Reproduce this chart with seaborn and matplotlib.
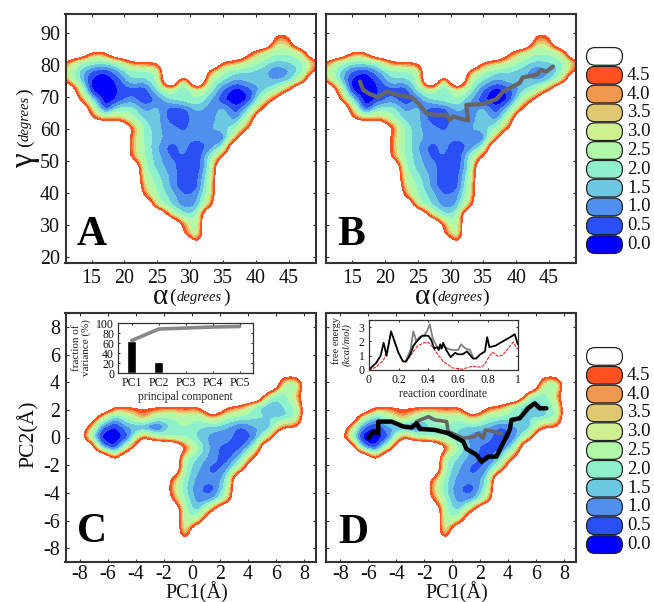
import numpy as np
import seaborn as sns
import matplotlib.pyplot as plt
from matplotlib.patches import FancyBboxPatch

W, H = 654, 602

sns.set_style("white")
plt.rcParams["font.family"] = ["Liberation Serif", "DejaVu Serif"]
plt.rcParams["axes.unicode_minus"] = False

# free energy levels and legend (upper bands hug the basin edge, as in the picture)
levels = [0, 0.5, 1, 1.5, 2, 2.6, 3.4, 3.9, 4.3, 4.65, 5]
band_colors = ["#0000ff", "#2a50f5", "#4f90ee", "#6cc8e0", "#8ff0cc",
               "#b2f8aa", "#cff090", "#e0c870", "#f09850", "#ff5020"]
legend_labels = ["0.0", "0.5", "1.0", "1.5", "2.0", "2.5", "3.0", "3.5", "4.0", "4.5", ""]
off_basin = 9

# surface in alpha / gamma
alpha_grid = [11, 13, 15, 17, 19, 21, 23, 25, 27, 29, 31, 33, 35, 37, 39, 41, 43, 45, 47, 49]
gamma_grid = [93, 90, 87, 84, 81, 78, 75, 72, 69, 66, 63, 60, 57, 54, 51, 48, 45, 42, 39, 36, 33, 30, 27, 24, 21]
angle_surface = [
    [6, 6, 6, 6, 6, 6, 6, 6, 6, 6, 6, 6, 6, 6, 6, 6, 6, 6, 6, 6],
    [6, 6, 6, 6, 6, 6, 6, 6, 6, 6, 6, 6, 6, 6, 6, 6, 5.4, 5.4, 6, 6],
    [6, 6, 6, 6, 6, 6, 6, 6, 6, 6, 6, 6, 6, 6, 6, 6, 3.8, 4.2, 6, 6],
    [6, 5.5, 5, 5, 5.5, 6, 6, 6, 6, 6, 6, 6, 6, 6, 5.4, 3.5, 2.8, 2.8, 3.5, 6],
    [5.2, 3, 2.4, 2.4, 2.8, 5, 5.4, 5.4, 6, 6, 6, 6, 5.2, 4.5, 3.4, 2.4, 1.9, 2, 2.4, 4.5],
    [3.5, 2, 0.9, 0.5, 1.4, 2.4, 2.4, 2.8, 6, 6, 6, 4.5, 2.8, 2.1, 2, 1.7, 1, 1.4, 2.2, 5.2],
    [4.5, 2.1, 0.3, 0, 0.6, 1.9, 1.7, 2.5, 8, 2.5, 8, 2.8, 1.9, 1.3, 1.7, 1.7, 1.4, 1.7, 3.5, 6],
    [6, 4, 0.2, 0, 0.5, 0.7, 0.5, 2, 3.2, 1.5, 3.5, 2.3, 0.9, 0.1, 0.7, 1.8, 2.6, 4.8, 6, 6],
    [6, 5.4, 2, 0, 0.6, 1.3, 0.5, 1, 1.9, 2.3, 2.5, 1.5, 0.5, 0, 0.5, 3, 5.4, 6, 6, 6],
    [6, 6, 4, 0.4, 2.2, 2.3, 1.3, 1.7, 0.6, 0.7, 1.6, 1.2, 1.7, 0.5, 2, 5, 6, 6, 6, 6],
    [6, 6, 5.4, 4, 4.5, 3, 1.8, 1.7, 0.7, 0.6, 1.4, 1.2, 1.9, 1.2, 3.5, 6, 6, 6, 6, 6],
    [6, 6, 6, 6, 6, 5.2, 2.4, 1.6, 1.2, 0.9, 1.3, 1.5, 1.7, 2.5, 5.2, 6, 6, 6, 6, 6],
    [6, 6, 6, 6, 6, 4.6, 2.4, 1.7, 1.2, 1.1, 1.1, 1.2, 0.9, 4.4, 6, 6, 6, 6, 6, 6],
    [6, 6, 6, 6, 6, 4.6, 2.5, 1.5, 0.7, 1.2, 0.5, 1.2, 2.2, 6, 6, 6, 6, 6, 6, 6],
    [6, 6, 6, 6, 6, 4.8, 2.5, 1.7, 0.9, 1, 0.4, 2.2, 5.4, 6, 6, 6, 6, 6, 6, 6],
    [6, 6, 6, 6, 6, 6, 2.6, 1.8, 1.2, 0.7, 0.5, 2.2, 6, 6, 6, 6, 6, 6, 6, 6],
    [6, 6, 6, 6, 6, 6, 3.2, 2.1, 1.4, 0.5, 0.7, 2.6, 6, 6, 6, 6, 6, 6, 6, 6],
    [6, 6, 6, 6, 6, 6, 3.8, 2.4, 1.4, 0.5, 0.7, 3, 6, 6, 6, 6, 6, 6, 6, 6],
    [6, 6, 6, 6, 6, 6, 4.8, 2.5, 1.8, 1, 1.2, 3.2, 6, 6, 6, 6, 6, 6, 6, 6],
    [6, 6, 6, 6, 6, 6, 6, 3.2, 2, 1.2, 1.4, 4.2, 6, 6, 6, 6, 6, 6, 6, 6],
    [6, 6, 6, 6, 6, 6, 6, 6, 3.8, 2, 2.2, 6, 6, 6, 6, 6, 6, 6, 6, 6],
    [6, 6, 6, 6, 6, 6, 6, 6, 6, 4.4, 2.6, 9, 6, 6, 6, 6, 6, 6, 6, 6],
    [6, 6, 6, 6, 6, 6, 6, 6, 6, 5.2, 2.6, 9, 6, 6, 6, 6, 6, 6, 6, 6],
    [6, 6, 6, 6, 6, 6, 6, 6, 6, 6, 5.2, 6, 6, 6, 6, 6, 6, 6, 6, 6],
    [6, 6, 6, 6, 6, 6, 6, 6, 6, 6, 6, 6, 6, 6, 6, 6, 6, 6, 6, 6],
]

# surface in PC1 / PC2
pc1_grid = [-8.5, -7.5, -6.5, -5.5, -4.5, -3.5, -2.5, -1.5, -0.5, 0.5, 1.5, 2.5, 3.5, 4.5, 5.5, 6.5, 7.5, 8.5]
pc2_grid = [5.25, 4.5, 3.75, 3, 2.25, 1.5, 0.75, 0, -0.75, -1.5, -2.25, -3, -3.75, -4.5, -5.25, -6, -6.75, -7.5, -8.25]
pc_surface = [
    [6, 6, 6, 6, 6, 6, 6, 6, 6, 6, 6, 6, 6, 6, 6, 6, 6, 6],
    [6, 6, 6, 6, 6, 6, 6, 6, 6, 6, 6, 6, 6, 6, 6, 5.4, 5.4, 6],
    [6, 6, 6, 6, 6, 6, 6, 6, 6, 6, 6, 6, 6, 6, 6, 3, 2.4, 6],
    [6, 6, 6, 6, 6, 6, 6, 6, 6, 6, 6, 6, 6, 6, 2.6, 2, 4, 6],
    [6, 6, 6, 5.2, 5.2, 5.4, 5.3, 5, 5.2, 5.1, 6, 5.3, 4.6, 2.2, 1.3, 2, 2.6, 6],
    [6, 6, 3.6, 1.6, 2.8, 4.6, 2.7, 2.5, 3.2, 2.6, 4.4, 2.7, 2.4, 2.1, 2.1, 1.6, 2.6, 6],
    [6, 5, 1, 0.3, 1.5, 1, 0.4, 2.2, 2.6, 2, 1.7, 1.5, 0.8, 1.5, 1.4, 4.6, 4.8, 6],
    [6, 3.5, 0.1, 0.05, 0.7, 5, 3, 2.6, 2.4, 1.8, 1.2, 1.3, 0.4, 1.1, 3.5, 6, 6, 6],
    [6, 6, 1.5, 0.3, 3.5, 6, 6, 6, 5.2, 2.4, 1.2, 0.7, 0.8, 2.4, 6, 6, 6, 6],
    [6, 6, 6, 4.2, 6, 6, 6, 7, 2.6, 1.8, 1.2, 0.6, 1.8, 5.4, 6, 6, 6, 6],
    [6, 6, 6, 6, 6, 6, 6, 6, 2.4, 1.5, 0.7, 1.2, 3.5, 6, 6, 6, 6, 6],
    [6, 6, 6, 6, 6, 6, 6, 4.8, 2.2, 1.2, 1.1, 1.8, 9, 6, 6, 6, 6, 6],
    [6, 6, 6, 6, 6, 6, 6, 4.4, 2, 1, 0.7, 2.4, 9, 6, 6, 6, 6, 6],
    [6, 6, 6, 6, 6, 6, 6, 5.2, 2.4, 1.1, 1.3, 3.5, 9, 6, 6, 6, 6, 6],
    [6, 6, 6, 6, 6, 6, 6, 6, 2.6, 1.6, 4.8, 6, 6, 6, 6, 6, 6, 6],
    [6, 6, 6, 6, 6, 6, 6, 7.5, 2.6, 3.3, 6, 6, 6, 6, 6, 6, 6, 6],
    [6, 6, 6, 6, 6, 6, 6, 9, 2.6, 9, 6, 6, 6, 6, 6, 6, 6, 6],
    [6, 6, 6, 6, 6, 6, 6, 6, 5.2, 6, 6, 6, 6, 6, 6, 6, 6, 6],
    [6, 6, 6, 6, 6, 6, 6, 6, 6, 6, 6, 6, 6, 6, 6, 6, 6, 6],
]

# paths
path_alpha = [16.2, 16.7, 17.7, 19.0, 20.3, 22.0, 24.1, 25.3, 26.3, 27.6, 29.4, 29.9, 30.4,
              31.9, 32.7, 32.4, 35.0, 37.0, 38.0, 40.5, 41.0, 43.1, 43.8, 44.6, 45.6]
path_gamma = [74.7, 72.1, 70.8, 69.8, 71.6, 70.5, 69.8, 67.4, 64.8, 64.3, 64.3, 62.7, 63.8,
              62.9, 62.5, 67.4, 67.7, 69.2, 71.6, 74.2, 76.0, 76.8, 78.3, 77.8, 79.4]
black_pc1 = [-6.0, -5.64, -5.29, -5.29, -4.33, -3.5, -2.9, -2.55, -2.31, -1.24, -0.29, 0.79, 1.02,
             1.74, 2.1, 2.57, 3.17, 3.52, 3.76, 4.12, 4.24, 4.83, 5.43, 5.9, 6.26, 6.74]
black_pc2 = [-0.05, 0.43, 0.31, 1.15, 1.15, 0.79, 0.72, 1.03, 0.62, 0.55, 0.31, -0.29, -0.82,
             -1.25, -1.74, -1.38, -1.38, -0.65, -0.17, 0.55, 1.27, 1.39, 2.11, 2.47, 2.11, 2.11]
gray_pc1 = [-2.55, -1.71, -1.24, -0.4, -0.29, 0.79, 1.62, 1.86, 2.21, 2.38, 3.52]
gray_pc2 = [1.15, 1.51, 1.27, 1.15, 0.43, -0.05, 0.07, 0.31, -0.05, 0.55, 0.31]

# inset C
pc_names = ["PC1", "PC2", "PC3", "PC4", "PC5"]
variance = [65, 23, 1, 1, 0.5]
cumulative = [65, 88, 90, 92, 93]

# inset D
black_rc = [0, 0.02, 0.05, 0.08, 0.1, 0.12, 0.15, 0.17, 0.2, 0.23, 0.25, 0.28, 0.3, 0.33, 0.36, 0.4, 0.42,
            0.44, 0.46, 0.47, 0.48, 0.49, 0.5, 0.52, 0.55, 0.58, 0.6, 0.63, 0.66, 0.7, 0.72, 0.75, 0.78,
            0.795, 0.81, 0.85, 0.9, 0.95, 0.98, 1]
black_fe = [0, 0.2, 0.5, 1.0, 1.9, 1.0, 2.7, 2.1, 1.2, 0.6, 0.6, 1.1, 1.7, 2.1, 2.4, 2.4, 2.1,
            1.5, 1.6, 1.4, 1.8, 1.5, 1.9, 1.4, 0.9, 1.2, 1.1, 1.1, 1.3, 0.8, 0.8, 1.1, 1.3,
            2.3, 1.6, 1.7, 2.0, 2.3, 2.5, 1.8]
gray_rc = [0.25, 0.28, 0.3, 0.32, 0.34, 0.37, 0.39, 0.41, 0.43, 0.46, 0.48, 0.5, 0.53, 0.56, 0.6, 0.62, 0.65, 0.68, 0.7]
gray_fe = [0.6, 1.4, 2.7, 2.0, 2.3, 2.4, 2.7, 3.2, 2.2, 1.6, 1.5, 1.7, 1.5, 1.4, 1.4, 1.8, 1.5, 1.4, 0.9]
red_rc = [0, 0.05, 0.1, 0.13, 0.15, 0.17, 0.2, 0.23, 0.25, 0.3, 0.33, 0.37, 0.4, 0.43, 0.47, 0.5, 0.53,
          0.56, 0.6, 0.63, 0.67, 0.7, 0.75, 0.78, 0.8, 0.83, 0.87, 0.9, 0.95, 0.97, 1]
red_fe = [0, 0.2, 0.7, 1.6, 2.6, 2.2, 1.2, 0.6, 0.55, 1.3, 1.7, 1.9, 1.95, 1.6, 1.0, 0.6, 0.4,
          0.15, 0.1, 0.05, 0.2, 0.25, 0.2, 0.4, 0.8, 1.25, 0.95, 1.05, 1.7, 1.95, 1.45]

fig = plt.figure(figsize=(W / 100, H / 100), dpi=100)


def px_axes(left, top, right, bottom):
    return fig.add_axes([left / W, 1 - bottom / H, (right - left) / W, (bottom - top) / H])


def px_text(x, y, s, **kw):
    kw.setdefault("ha", "center")
    kw.setdefault("va", "center")
    kw.setdefault("color", "#111111")
    fig.text(x / W, 1 - y / H, s, **kw)


def style_frame(ax, size=14.4, length=2.5, width=1.5):
    for sp in ax.spines.values():
        sp.set_linewidth(width)
        sp.set_color("#333333")
    ax.tick_params(direction="in", length=length, width=0.8, top=True, right=True,
                   bottom=True, left=True, labelsize=size, pad=4, color="#333333", labelcolor="#111111")


def soften(x, y, z, n=4, passes=2):
    # finer grid and a light blur so the contour bands come out rounded
    x, y, z = np.array(x, float), np.array(y, float), np.array(z, float)
    z = np.where(z >= 5.5, off_basin, z)
    fx = np.linspace(x[0], x[-1], (len(x) - 1) * n + 1)
    fy = np.linspace(y[0], y[-1], (len(y) - 1) * n + 1)
    rows = np.array([np.interp(fx, x, r) for r in z])
    idx = np.arange(len(y))
    fine = np.array([np.interp(np.linspace(0, len(y) - 1, len(fy)), idx, c) for c in rows.T]).T
    kernel = np.array([1, 2, 1]) / 4
    for _ in range(passes):
        fine = np.pad(fine, 1, mode="edge")
        fine = np.apply_along_axis(np.convolve, 0, fine, kernel, mode="same")
        fine = np.apply_along_axis(np.convolve, 1, fine, kernel, mode="same")
        fine = fine[1:-1, 1:-1]
    return fx, fy, fine


def surface_panel(box, x, y, z, xlim, ylim, xticks, yticks, show_y):
    ax = px_axes(*box)
    fx, fy, fine = soften(x, y, z)
    ax.contourf(fx, fy, fine, levels=levels, colors=band_colors)
    ax.set_xlim(*xlim)
    ax.set_ylim(*ylim)
    ax.set_xticks(xticks)
    ax.set_yticks(yticks)
    style_frame(ax)
    if not show_y:
        ax.tick_params(labelleft=False)
    return ax


def colour_key(top, bottom):
    ax = px_axes(585, top, 624, bottom)
    ax.set_xlim(0, 1)
    ax.set_ylim(-0.5, len(legend_labels) - 0.5)
    ax.axis("off")
    for i, lab in enumerate(legend_labels):
        col = band_colors[i] if i < len(band_colors) else "white"
        ax.add_patch(FancyBboxPatch((0.04, i - 0.47), 0.92, 0.94, boxstyle="round,pad=0,rounding_size=0.22",
                                    mutation_aspect=2.07, facecolor=col, edgecolor="#222222", linewidth=0.9,
                                    clip_on=False))
        ax.text(1.08, i, lab, fontsize=13.5, va="center", ha="left", color="#111111")


angle_xlim, angle_ylim = (11.05, 49.1), (18.0, 95.8)
angle_xticks, angle_yticks = [15, 20, 25, 30, 35, 40, 45], [20, 30, 40, 50, 60, 70, 80, 90]
pc_xlim, pc_ylim = (-9.03, 8.86), (-9.0, 9.0)
pc_ticks = [-8, -6, -4, -2, 0, 2, 4, 6, 8]

# panel A
ax_a = surface_panel((65.5, 14, 316, 263), alpha_grid, gamma_grid, angle_surface,
                     angle_xlim, angle_ylim, angle_xticks, angle_yticks, True)

# panel B
ax_b = surface_panel((326, 14, 576, 263), alpha_grid, gamma_grid, angle_surface,
                     angle_xlim, angle_ylim, angle_xticks, angle_yticks, False)
sns.lineplot(x=path_alpha, y=path_gamma, sort=False, estimator=None, color="#666666", linewidth=3, ax=ax_b)

# panel C
ax_c = surface_panel((65.5, 313, 316, 562), pc1_grid, pc2_grid, pc_surface,
                     pc_xlim, pc_ylim, pc_ticks, pc_ticks, True)
ax_c.tick_params(axis="x", pad=2)

# panel D
ax_d = surface_panel((326, 313, 576, 562), pc1_grid, pc2_grid, pc_surface,
                     pc_xlim, pc_ylim, pc_ticks, pc_ticks, False)
ax_d.tick_params(axis="x", pad=2)
sns.lineplot(x=gray_pc1, y=gray_pc2, sort=False, estimator=None, color="#666666", linewidth=2.6, ax=ax_d)
sns.lineplot(x=black_pc1, y=black_pc2, sort=False, estimator=None, color="black", linewidth=3.2, ax=ax_d)

# inset of C
ins_c = px_axes(118.3, 323, 253.3, 373)
sns.barplot(x=pc_names, y=variance, color="black", width=0.33, saturation=1, ax=ins_c)
sns.lineplot(x=pc_names, y=cumulative, color="#888888", linewidth=2.6, ax=ins_c)
ins_c.set_xlim(-0.5, 4.5)
ins_c.set_ylim(0, 100)
ins_c.set_yticks([0, 20, 40, 60, 80, 100])
style_frame(ins_c, size=8.5, length=1.5, width=0.9)
ins_c.tick_params(pad=3)
ins_c.set_xlabel("principal component", fontsize=8.3, labelpad=1, color="#222222")
ins_c.set_ylabel("fraction of\nvariance (%)", fontsize=8, labelpad=4, linespacing=0.95, color="#222222")

# inset of D
ins_d = px_axes(368.7, 320, 517.7, 370)
sns.lineplot(x=gray_rc, y=gray_fe, sort=False, estimator=None, color="#808080", linewidth=1.3, ax=ins_d)
sns.lineplot(x=red_rc, y=red_fe, sort=False, estimator=None, color="#ee2222", linewidth=0.8,
             linestyle=(0, (3, 1)), ax=ins_d)
sns.lineplot(x=black_rc, y=black_fe, sort=False, estimator=None, color="black", linewidth=1.3, ax=ins_d)
ins_d.set_xlim(0, 1)
ins_d.set_ylim(0, 3.5)
ins_d.set_xticks([0, 0.2, 0.4, 0.6, 0.8, 1])
ins_d.set_xticklabels(["0", "0.2", "0.4", "0.6", "0.8", "1"])
ins_d.set_yticks([0, 1, 2, 3])
style_frame(ins_d, size=8.5, length=1.5, width=0.9)
ins_d.tick_params(pad=3)
ins_d.set_xlabel("reaction coordinate", fontsize=8.3, labelpad=1, color="#222222")
px_text(336, 340, "free energy", rotation=90, fontsize=7.5, color="#222222")
px_text(347, 345, "(kcal/mol)", rotation=90, fontsize=7.5, style="italic", color="#222222")

# colour keys
colour_key(47, 254)
colour_key(347, 554)

# axis labels
for x0, off in [(160.5, (12, 39, 66.5)), (422, (12, 38, 64))]:
    px_text(x0, 297, "\u03b1", fontsize=21)
    px_text(x0 + off[0], 297, "(", fontsize=14)
    px_text(x0 + off[1], 298, "degrees", fontsize=10.5, style="italic")
    px_text(x0 + off[2], 297, ")", fontsize=14)
px_text(25, 161, "\u03b3", fontsize=24, rotation=90)
px_text(25, 144, "(", fontsize=14, rotation=90)
px_text(25, 118, "degrees", fontsize=10.5, style="italic", rotation=90)
px_text(25, 92, ")", fontsize=14, rotation=90)
px_text(197, 598, "PC1(\u00c5)", fontsize=14.5, va="baseline")
px_text(457, 598, "PC1(\u00c5)", fontsize=14.5, va="baseline")
px_text(28, 434, "PC2(\u00c5)", fontsize=15.6, rotation=90)

# panel letters
for x0, y0, letter in [(77, 245, "A"), (337, 245, "B"), (77, 542, "C"), (338, 543, "D")]:
    px_text(x0, y0, letter, fontsize=30, fontweight="bold", ha="left", va="baseline", color="black")

fig.savefig("out.png", dpi=100)
